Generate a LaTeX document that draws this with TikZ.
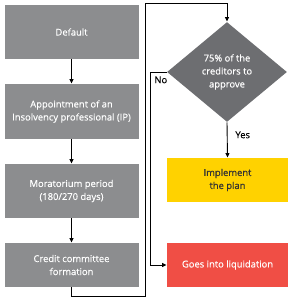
\documentclass[tikz,border=0pt]{standalone}
\usepackage{fontspec}
\setmainfont{Open Sans}[FakeBold=0.35]
\usetikzlibrary{positioning,arrows.meta,shapes.geometric}
\definecolor{stepgray}{HTML}{8C8D8F}
\definecolor{darkgray}{HTML}{6D6E71}
\definecolor{planyellow}{HTML}{FFD200}
\definecolor{liqred}{HTML}{F04E45}

\begin{document}
\begin{tikzpicture}[x=1pt, y=-1pt, >={Triangle[length=4.5pt,width=4pt]},
    font=\fontsize{9.4}{13}\selectfont, line width=0.9pt,
    b/.style={draw=none, align=center, text=white, inner sep=0pt},
    gbox/.style={b, fill=stepgray, minimum width=134pt}]

    \useasboundingbox (0,0) rectangle (291,302);
    \node[gbox, minimum height=54pt] (dflt) at (71.5,32) {Default};
    \node[gbox, minimum height=55pt] (appt) at (71.5,111.5) {Appointment of an\\Insolvency professional (IP)};
    \node[gbox, minimum height=54pt] (mora) at (71.5,191) {Moratorium period\\(180/270 days)};
    \node[gbox, minimum height=44pt] (cred) at (71.5,265) {Credit committee\\formation};

    \node[b, diamond, fill=darkgray, aspect=1.2, minimum width=120pt, minimum height=100pt] (vote) at (227,72) {75\% of the\\creditors to\\approve};
    \node[b, fill=planyellow, text=black!80, minimum width=121pt, minimum height=44pt] (plan) at (227.5,180) {Implement\\the plan};
    \node[b, fill=liqred, minimum width=121pt, minimum height=44pt] (liq) at (227.5,265) {Goes into liquidation};

    \draw[->] (dflt) -- (appt);
    \draw[->] (appt) -- (mora);
    \draw[->] (mora) -- (cred);
    \coordinate (loop) at (145,3);
    \draw[->] (cred.south) -- ++(0,9) -| (loop) -| (vote.north);
    \draw[->] (vote.west) -- ++(-16,0) |- (liq.west);
    \draw[->] (vote.south) -- (plan.north);
    \node[anchor=north west, inner sep=0pt] (no) at (154,76) {No};
    \node[anchor=north west, inner sep=0pt] (yes) at (235,131) {Yes};
\end{tikzpicture}
\end{document}
